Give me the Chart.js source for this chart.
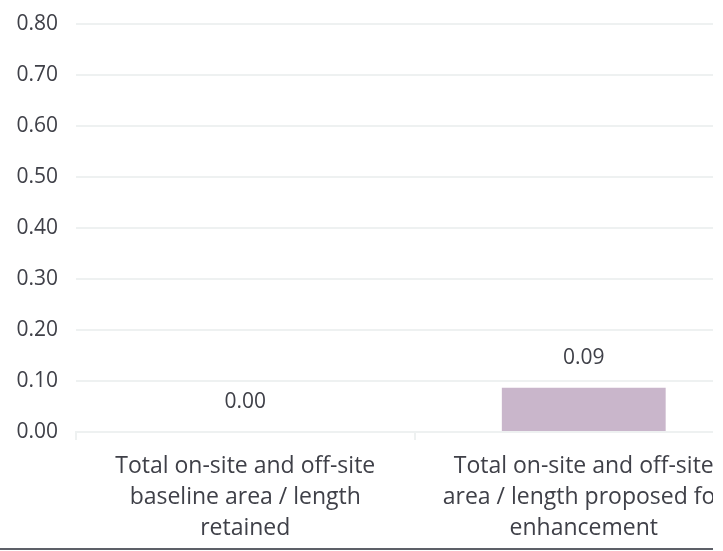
<!DOCTYPE html>
<html>
<head>
<meta charset="utf-8">
<script src="https://cdn.jsdelivr.net/npm/chart.js@4"></script>
<style>
    body { margin: 0; background: #fff; }
    #wrap { position: absolute; left: 0; top: 0; width: 713px; height: 548px; overflow: hidden; }
    #bottomLine { position: absolute; left: 0; top: 548px; width: 713px; height: 2px; background: #5d6068; }
</style>
</head>
<body>
<div id="wrap"><canvas id="chart" width="760" height="559"></canvas></div>
<div id="bottomLine"></div>
<script>
// --- Chart data ---
const categories = [
    ['Total on-site and off-site', 'baseline area / length', 'retained'],
    ['Total on-site and off-site', 'area / length proposed for', 'enhancement']
];
const values = [0, 0.087];
const yTicks = [0, 0.1, 0.2, 0.3, 0.4, 0.5, 0.6, 0.7, 0.8];

const textColor = '#3f4048';
const gridColor = '#eef1f1';

// Draws the value above each bar
const valueLabels = {
    id: 'valueLabels',
    afterDatasetsDraw(chart) {
        const ctx = chart.ctx;
        const meta = chart.getDatasetMeta(0);
        ctx.save();
        ctx.font = '21px "Open Sans"';
        ctx.fillStyle = textColor;
        ctx.textAlign = 'center';
        ctx.textBaseline = 'middle';
        meta.data.forEach((bar, i) => {
            ctx.fillText(values[i].toFixed(2), bar.x, bar.y - 30);
        });
        ctx.restore();
    }
};

new Chart(document.getElementById('chart').getContext('2d'), {
    type: 'bar',
    data: {
        labels: categories,
        datasets: [{
            data: values,
            backgroundColor: '#c9b6cb',
            categoryPercentage: 1,
            barPercentage: 0.484
        }]
    },
    options: {
        responsive: false,
        animation: false,
        layout: { padding: { top: 24, left: 0, right: 7, bottom: 4 } },
        plugins: {
            legend: { display: false },
            tooltip: { enabled: false }
        },
        scales: {
            y: {
                min: 0,
                max: 0.8,
                afterBuildTicks: axis => { axis.ticks = yTicks.map(v => ({ value: v })); },
                afterFit: axis => { axis.width = 76; axis.paddingTop = 0; },
                ticks: {
                    color: textColor,
                    font: { family: 'Open Sans', size: 21 },
                    padding: 18,
                    callback: v => Number(v).toFixed(2)
                },
                grid: { color: gridColor, lineWidth: 2, drawTicks: false },
                border: { display: false }
            },
            x: {
                ticks: {
                    color: textColor,
                    font: { family: 'Open Sans', size: 23, lineHeight: '31px' },
                    maxRotation: 0,
                    padding: 11
                },
                grid: { color: gridColor, lineWidth: 2, drawOnChartArea: false, tickLength: 8 },
                border: { color: gridColor, width: 2 }
            }
        }
    },
    plugins: [valueLabels]
});
</script>
</body>
</html>
